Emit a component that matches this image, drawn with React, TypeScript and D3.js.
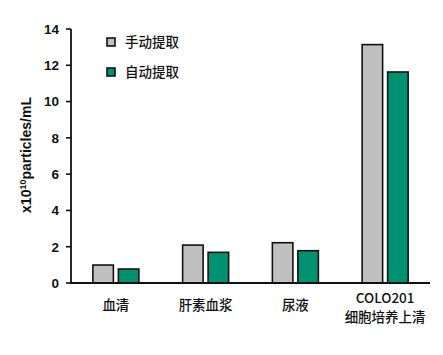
import React from "react";
import * as d3 from "d3";

const categories = ["血清", "肝素血浆", "尿液", "COLO201\n细胞培养上清"];
const manual = [0.99, 2.09, 2.22, 13.14];
const auto = [0.77, 1.69, 1.78, 11.63];
const seriesNames = ["手动提取", "自动提取"];
const yTicks = [0, 2, 4, 6, 8, 10, 12, 14];

export default function App() {
  const W = 443, H = 355;
  const left = 71, right = 430, top = 29, bottom = 283;
  const x = d3.scaleBand<number>().domain(d3.range(categories.length)).range([left, right]);
  const y = d3.scaleLinear().domain([0, 14]).range([bottom, top]);
  const bw = 20.5, gap = 5;
  const colors = ["#c0c0c0", "#009270"];
  const series = [manual, auto];
  const font = "Arial, 'Liberation Sans', sans-serif";
  const cjk = "'Noto Sans CJK SC', sans-serif";
  return (
    <svg width={W} height={H} style={{ position: "absolute", left: 0, top: 0, background: "#fff" }}>
      {series.map((s, si) =>
        s.map((v, i) => {
          const c = x(i)! + x.bandwidth() / 2;
          const x0 = si === 0 ? c - gap / 2 - bw : c + gap / 2;
          return (
            <rect key={`${si}-${i}`} x={x0} y={y(v)} width={bw} height={y(0) - y(v)}
              fill={colors[si]} stroke="#111" strokeWidth={1.6} />
          );
        })
      )}
      <line x1={left} x2={left} y1={top} y2={bottom} stroke="#111" strokeWidth={1.8} />
      <line x1={left - 1} x2={right} y1={bottom} y2={bottom} stroke="#111" strokeWidth={1.8} />
      {yTicks.map((t) => (
        <g key={t}>
          <line x1={left - 5} x2={left} y1={y(t)} y2={y(t)} stroke="#111" strokeWidth={1.6} />
          <text x={59} y={y(t)} dy="0.36em" textAnchor="end" fontFamily={font}
            fontWeight="bold" fontSize={13.5} fill="#111">{t}</text>
        </g>
      ))}
      {categories.map((c, i) => {
        const lines = c.split("\n");
        const cx = x(i)! + x.bandwidth() / 2;
        const y0 = lines.length === 1 ? 305 : 298;
        return (
          <text key={c} textAnchor="middle" fontFamily={cjk} fontWeight={500} fontSize={13.5} fill="#111">
            {lines.map((l, li) => (
              <tspan key={li} x={cx} y={y0 + li * 19} dy="0.35em">{l}</tspan>
            ))}
          </text>
        );
      })}
      <text transform={`translate(31,155) rotate(-90)`} textAnchor="middle" fontFamily={font}
        fontWeight="bold" fontSize={14} fill="#111">
        x10<tspan fontSize={9} dy="-5">10</tspan><tspan dy="5">particles/mL</tspan>
      </text>
      {seriesNames.map((n, i) => (
        <g key={n} transform={`translate(0,${42 + i * 30})`}>
          <rect x={107} y={-4} width={8} height={8} fill={colors[i]} stroke="#111" strokeWidth={1.6} />
          <text x={125} y={0} dy="0.35em" fontFamily={cjk} fontWeight={500} fontSize={13.5} fill="#111">{n}</text>
        </g>
      ))}
    </svg>
  );
}
